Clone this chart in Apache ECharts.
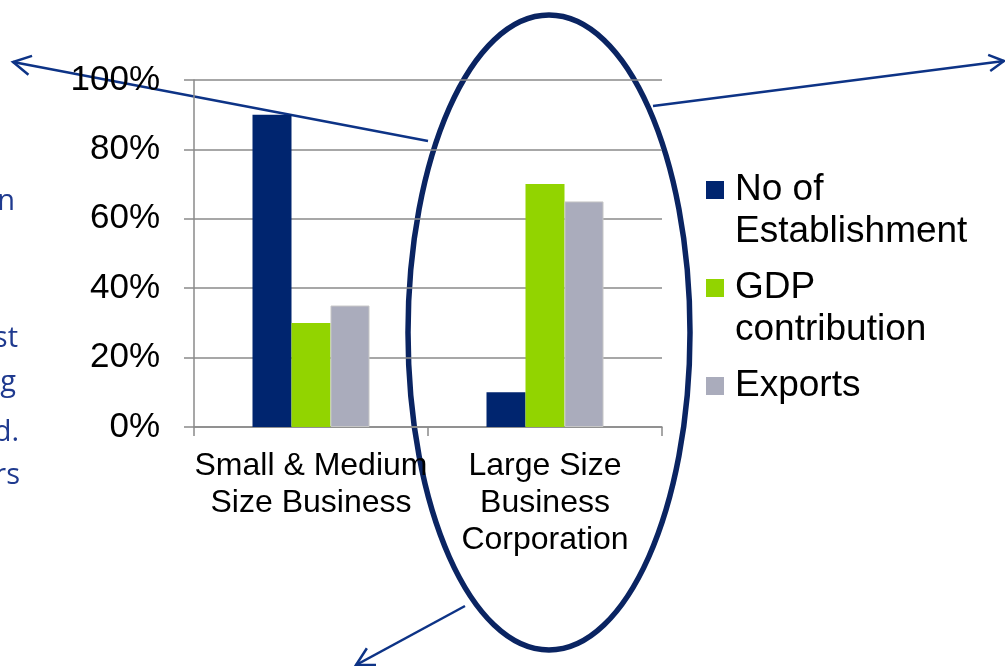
<!DOCTYPE html>
<html>
<head>
	<meta charset="utf-8">
	<title>SME vs Large Business</title>
	<script src="https://cdn.jsdelivr.net/npm/echarts@6/dist/echarts.min.js"></script>
	<style>
		html, body { margin: 0; padding: 0; background: #fff; }
		#chart { width: 1005px; height: 666px; }
	</style>
</head>
<body>
	<div id="chart"></div>
	<script type="text/javascript">
	// data (percent)
	var categories = ['Small & Medium\nSize Business', 'Large Size\nBusiness\nCorporation'];
	var seriesNames = ['No of Establishment', 'GDP contribution', 'Exports'];
	var legendLabels = ['No of\nEstablishment', 'GDP\ncontribution', 'Exports'];
	var noOfEstablishment = [90, 10];
	var gdpContribution = [30, 70];
	var exportsShare = [35, 65];
	var yTicks = [0, 20, 40, 60, 80, 100];

	// cut-off side text on the left edge
	var sideText = ['n', 'st', 'g', 'd.', 'rs'];

	var font = "'Liberation Sans', Arial, sans-serif";
	var navy = '#00256f';
	var green = '#92d400';
	var grey = '#aaacbc';
	var axisGrey = '#8a8a8a';
	var arrowColor = '#0d3386';

	function arrow(x1, y1, x2, y2, len) {
		var a = Math.atan2(y1 - y2, x1 - x2);
		var s = 0.5;
		var p1 = [x2 + len * Math.cos(a + s), y2 + len * Math.sin(a + s)];
		var p2 = [x2 + len * Math.cos(a - s), y2 + len * Math.sin(a - s)];
		return {
			type: 'group',
			children: [
				{ type: 'line', shape: { x1: x1, y1: y1, x2: x2, y2: y2 },
				  style: { stroke: arrowColor, lineWidth: 2.5 } },
				{ type: 'polyline', shape: { points: [p1, [x2, y2], p2] },
				  style: { stroke: arrowColor, lineWidth: 2.5, fill: 'none' } }
			]
		};
	}

	var sidePos = [[15, 216], [18, 353], [16, 397], [19, 447], [20, 490]];
	var sideEls = sideText.map(function (t, i) {
		return {
			type: 'text',
			x: sidePos[i][0], y: sidePos[i][1],
			style: {
				text: t, fill: '#1f3a8f', font: "29px 'Open Sans', sans-serif",
				textAlign: 'right', textVerticalAlign: 'bottom'
			}
		};
	});

	var chart = echarts.init(document.getElementById('chart'));
	chart.setOption({
		animation: false,
		backgroundColor: '#fff',
		textStyle: { fontFamily: font },
		grid: { left: 194, top: 80, width: 468, height: 347 },
		legend: {
			orient: 'vertical',
			left: 706,
			top: 127,
			padding: 0,
			itemGap: -28,
			itemWidth: 18,
			itemHeight: 18,
			itemStyle: { borderWidth: 0 },
			icon: 'rect',
			data: seriesNames,
			formatter: function (name) {
				var lbl = legendLabels[seriesNames.indexOf(name)];
				return lbl.indexOf('\n') >= 0 ? '\n' + lbl : '\n' + lbl + '\n';
			},
			textStyle: { fontSize: 37, lineHeight: 42, color: '#000', fontFamily: font, padding: [0, 0, 0, 6] }
		},
		xAxis: {
			type: 'category',
			data: categories,
			axisLine: { lineStyle: { color: axisGrey, width: 1.5 } },
			axisTick: { show: true, length: 9, lineStyle: { color: axisGrey, width: 1.5 } },
			axisLabel: { interval: 0, fontSize: 32, lineHeight: 37, color: '#000', margin: 21, fontFamily: font }
		},
		yAxis: {
			type: 'value',
			min: 0,
			max: yTicks[yTicks.length - 1],
			interval: yTicks[1] - yTicks[0],
			axisLine: { show: true, lineStyle: { color: axisGrey, width: 1.5 } },
			axisTick: { show: true, length: 10, lineStyle: { color: axisGrey, width: 1.5 } },
			splitLine: { lineStyle: { color: axisGrey, width: 1.5 } },
			axisLabel: { formatter: '{value}%', fontSize: 35, color: '#000', margin: 34, fontFamily: font }
		},
		series: [
			{ name: seriesNames[0], type: 'bar', data: noOfEstablishment, barGap: '0%', barCategoryGap: '50%',
			  itemStyle: { color: navy } },
			{ name: seriesNames[1], type: 'bar', data: gdpContribution, barGap: '0%', barCategoryGap: '50%',
			  itemStyle: { color: green } },
			{ name: seriesNames[2], type: 'bar', data: exportsShare, barGap: '0%', barCategoryGap: '50%',
			  itemStyle: { color: grey, borderColor: '#c6c6c6', borderWidth: 1 } }
		],
		graphic: [
			{
				type: 'group',
				z: 100,
				children: [
					{ type: 'ellipse', shape: { cx: 549, cy: 332.5, rx: 141, ry: 317.5 },
					  style: { fill: 'none', stroke: '#0a2462', lineWidth: 5.5 } },
					arrow(428, 141, 13, 62, 20),
					arrow(653, 106, 1004, 61, 17),
					arrow(465, 606, 356, 665, 20)
				].concat(sideEls)
			}
		]
	});
	</script>
</body>
</html>
